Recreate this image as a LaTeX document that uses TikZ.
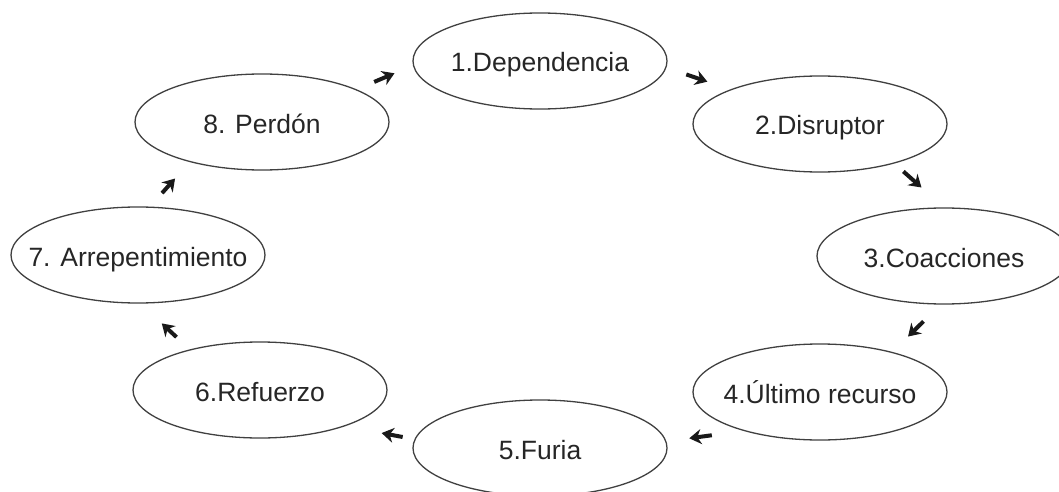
\documentclass[tikz,border=0pt]{standalone}
\usepackage{fontspec}
\setmainfont{Liberation Sans}
\usetikzlibrary{shapes, arrows.meta, positioning}
\tikzstyle{etapa} = [draw=black!75, line width=1.3pt, ellipse, minimum width=254pt, minimum height=96pt, inner sep=0pt, inner xsep=-50pt, text height=22pt, text depth=0pt, text=black!85, font=\fontsize{26.5}{30}\selectfont]
\tikzstyle{flecha} = [draw=black!90, line width=4pt, -{Stealth[length=12pt, width=15pt]}]

\begin{document}
\begin{tikzpicture}[x=1pt, y=-1pt]
	\clip (0,0) rectangle (1059,492);
	% etapas del ciclo
	\node [etapa] (dependencia) at (540,61) {1.Dependencia};
	\node [etapa] (disruptor) at (820,124) {2.Disruptor};
	\node [etapa] (coacciones) at (944,256) {3.Coacciones};
	\node [etapa] (recurso) at (820,392) {4.Último recurso};
	\node [etapa] (furia) at (540,448) {5.Furia};
	\node [etapa] (refuerzo) at (260,390) {6.Refuerzo};
	\node [etapa] (arrepentimiento) at (138,255) {7. Arrepentimiento};
	\node [etapa] (perdon) at (262,122) {8. Perdón};
	% flechas
	\draw [flecha, shorten <=19pt, shorten >=20pt] (perdon.19) -- (dependencia.182);
	\draw [flecha, shorten <=21pt, shorten >=24pt] (dependencia.-3) -- (disruptor.159);
	\draw [flecha, shorten <=12pt, shorten >=30pt] (disruptor.-28) -- (coacciones.north);
	\draw [flecha, shorten <=24pt, shorten >=22pt] (coacciones.-94) -- (recurso.29);
	\draw [flecha, shorten <=32pt, shorten >=23pt] (recurso.-153) -- (furia.3);
	\draw [flecha, shorten <=12pt, shorten >=37pt] (furia.176) -- (refuerzo.-23);
	\draw [flecha, shorten <=18pt, shorten >=29pt] (refuerzo.150) -- (arrepentimiento.-87);
	\draw [flecha, shorten <=18pt, shorten >=22pt] (arrepentimiento.76) -- (perdon.-151);
\end{tikzpicture}
\end{document}
